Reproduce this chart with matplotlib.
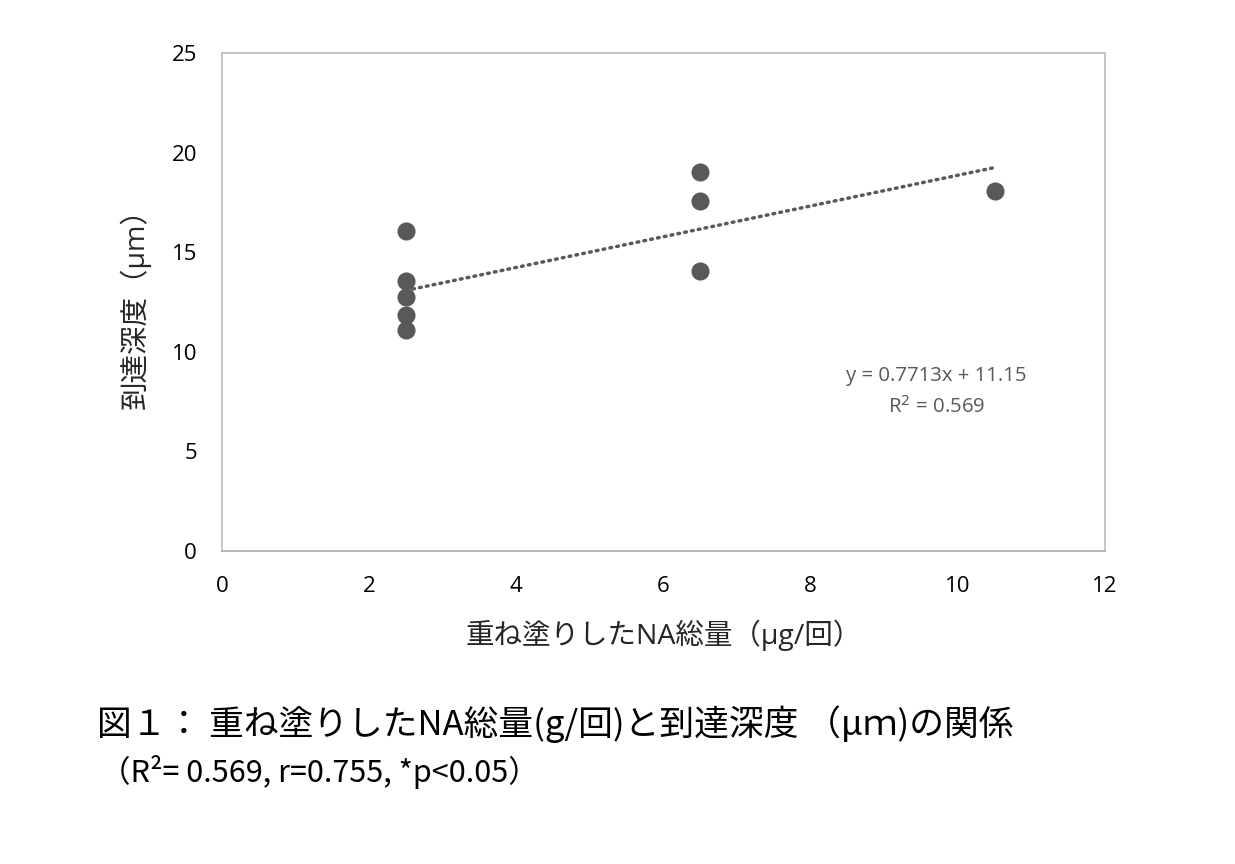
import numpy as np
import matplotlib.pyplot as plt

plt.rcParams['font.family'] = ['Open Sans', 'Noto Sans CJK JP', 'DejaVu Sans']

# data
x = np.array([2.5, 2.5, 2.5, 2.5, 2.5, 6.5, 6.5, 6.5, 10.5])
y = np.array([16.06, 13.55, 12.75, 11.85, 11.09, 19.03, 17.57, 14.06, 18.07])
slope, intercept = 0.7713, 11.15  # trendline as printed on the chart
xticks = [0, 2, 4, 6, 8, 10, 12]
yticks = [0, 5, 10, 15, 20, 25]

eq_text = 'y = 0.7713x + 11.15\nR$^2$ = 0.569'
xlabel = '重ね塗りしたNA総量（µg/回）'
ylabel = '到達深度（µm）'
caption1 = '図１： 重ね塗りしたNA総量(g/回)と到達深度 （μｍ)の関係'
caption2 = '（R²= 0.569, r=0.755, *p<0.05）'

gray = '#595959'

fig = plt.figure(figsize=(12.35, 8.64), dpi=100)
ax = fig.add_axes([222 / 1235, 1 - 551 / 864, (1105 - 222) / 1235, (551 - 53) / 864])

ax.scatter(x, y, s=170, color=gray, zorder=3, linewidths=0)

# linear trendline
xx = np.linspace(x.min(), x.max(), 100)
ax.plot(xx, slope * xx + intercept, color=gray, lw=2.5, linestyle=(0, (0.5, 1.5)),
        dash_capstyle='round', zorder=2)

ax.set_xlim(0, 12)
ax.set_ylim(0, 25)
ax.set_xticks(xticks)
ax.set_yticks(yticks)
ax.tick_params(length=0, labelsize=16, labelcolor='black', pad=18)
for s in ax.spines.values():
    s.set_color('#c0c0c0')
    s.set_linewidth(1.3)
ax.spines['bottom'].set_color('#b0b0b0')

ax.text(0.809, 0.32, eq_text, transform=ax.transAxes, ha='center', va='center',
        fontsize=14.7, color=gray, linespacing=1.6)

ax.set_xlabel(xlabel, fontsize=20.5, labelpad=16, color='#262626')
ax.set_ylabel(ylabel, fontsize=20.5, labelpad=15, color='#262626')

fig.text(97 / 1235, 1 - 724 / 864, caption1, fontsize=25, va='center',
         family=['Noto Sans CJK JP', 'DejaVu Sans'])
fig.text(100 / 1235, 1 - 772 / 864, caption2, fontsize=22, va='center',
         family=['Noto Sans CJK JP', 'DejaVu Sans'])

fig.savefig('out.png', dpi=100, facecolor='white')
